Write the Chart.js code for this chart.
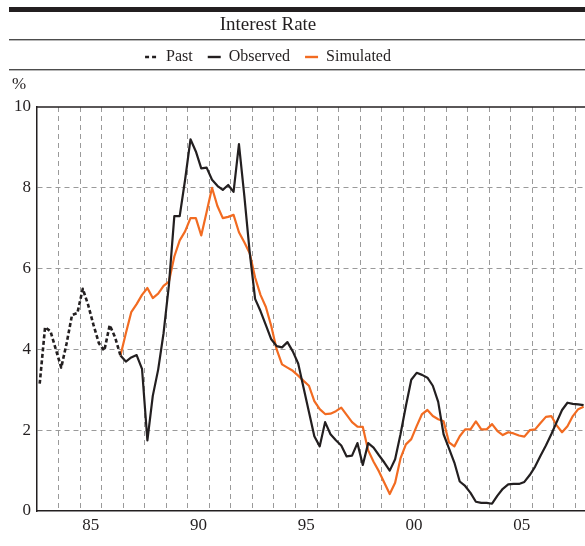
<!DOCTYPE html>
<html>
<head>
<meta charset="utf-8">
<script src="https://cdn.jsdelivr.net/npm/chart.js@4.4.1/dist/chart.umd.min.js"></script>
<style>
    html, body { margin: 0; padding: 0; background: #fff; }
    #wrap { width: 585px; height: 546px; }
</style>
</head>
<body>
<div id="wrap"><canvas id="rateChart"></canvas></div>
<script>
// quarterly data, x = year + quarter midpoint
var X_MIN = 1983
var X_MAX = 2008.44
var GRID_YEARS = [1984, 1985, 1986, 1987, 1988, 1989, 1990, 1991, 1992, 1993, 1994, 1995, 1996,
                  1997, 1998, 1999, 2000, 2001, 2002, 2003, 2004, 2005, 2006, 2007, 2008]
var LABEL_YEARS = [1985, 1990, 1995, 2000, 2005]
var TICK_LABELS = ['85', '90', '95', '00', '05']
var Y_TICKS = [0, 2, 4, 6, 8, 10]

// 1983Q1 - 1986Q4
var past = [3.15, 4.55, 4.45, 4.0, 3.55, 4.15, 4.85, 4.9, 5.5, 5.1, 4.6, 4.15, 3.97, 4.6, 4.3, 3.85]

// 1986Q4 - 2008Q2
var observed = [3.85,
    3.70, 3.80, 3.86, 3.52,
    1.75, 2.85, 3.50, 4.40,
    5.60, 7.30, 7.30, 8.20,
    9.20, 8.90, 8.48, 8.50,
    8.20, 8.05, 7.95, 8.07,
    7.90, 9.08, 7.80, 6.40,
    5.25, 4.95, 4.60, 4.25,
    4.08, 4.05, 4.18, 3.95,
    3.65, 3.05, 2.45, 1.85,
    1.60, 2.20, 1.90, 1.75,
    1.62, 1.35, 1.37, 1.68,
    1.14, 1.68, 1.57, 1.38,
    1.20, 1.00, 1.28, 1.90,
    2.60, 3.25, 3.42, 3.37,
    3.30, 3.10, 2.70, 1.90,
    1.55, 1.20, 0.73, 0.62,
    0.45, 0.23, 0.20, 0.20,
    0.18, 0.38, 0.55, 0.66,
    0.67, 0.67, 0.72, 0.89,
    1.10, 1.37, 1.62, 1.90,
    2.20, 2.50, 2.68, 2.65,
    2.64, 2.62]

var simulated = [3.85,
    4.40, 4.92, 5.12, 5.35,
    5.52, 5.27, 5.38, 5.57,
    5.68, 6.30, 6.70, 6.92,
    7.25, 7.25, 6.82, 7.40,
    8.00, 7.55, 7.25, 7.28,
    7.33, 6.90, 6.65, 6.38,
    5.78, 5.35, 5.05, 4.58,
    4.00, 3.63, 3.55, 3.47,
    3.35, 3.22, 3.10, 2.72,
    2.52, 2.40, 2.41, 2.47,
    2.56, 2.38, 2.20, 2.09,
    2.08, 1.50, 1.22, 0.98,
    0.70, 0.42, 0.70, 1.30,
    1.65, 1.78, 2.10, 2.40,
    2.50, 2.35, 2.27, 2.22,
    1.70, 1.60, 1.85, 2.02,
    2.02, 2.22, 2.02, 2.02,
    2.15, 1.98, 1.88, 1.95,
    1.92, 1.87, 1.84, 2.00,
    2.02, 2.18, 2.33, 2.35,
    2.12, 1.95, 2.10, 2.35,
    2.52, 2.58]

function quarterPoints(year, quarter, values) {
    return values.map(function(v, i) {
        return { x: year + (quarter - 1 + i + 0.5) / 4, y: v }
    })
}

var FONT = '"Liberation Serif", "Times New Roman", serif'
var GRID_GRAY = '#9a9a9a'

var headerPlugin = {
    id: 'header',
    afterDraw: function(chart) {
        var ctx = chart.ctx
        var w = chart.width
        var area = chart.chartArea
        var cx = 268
        ctx.save()
        // rules
        ctx.fillStyle = '#231f20'
        ctx.fillRect(9, 7, w - 9, 5)
        ctx.fillStyle = '#4d4d4d'
        ctx.fillRect(9, 39, w - 9, 1.4)
        ctx.fillRect(9, 69, w - 9, 1.4)
        // title
        ctx.fillStyle = '#231f20'
        ctx.textBaseline = 'middle'
        ctx.textAlign = 'center'
        ctx.font = '19px ' + FONT
        ctx.fillText('Interest Rate', cx, 25)
        // legend
        ctx.font = '16px ' + FONT
        var sets = chart.data.datasets
        var mark = 13, gap = 8, sep = 15
        var total = 0
        sets.forEach(function(ds, i) {
            total += mark + gap + ctx.measureText(ds.label).width + (i < sets.length - 1 ? sep : 0)
        })
        var x = cx - total / 2
        var ly = 57
        ctx.textAlign = 'left'
        sets.forEach(function(ds) {
            ctx.strokeStyle = ds.borderColor
            ctx.lineWidth = 2.4
            ctx.setLineDash(ds.borderDash ? [4, 3] : [])
            ctx.beginPath()
            ctx.moveTo(x, ly)
            ctx.lineTo(x + mark, ly)
            ctx.stroke()
            x += mark + gap
            ctx.fillStyle = '#231f20'
            ctx.fillText(ds.label, x, ly)
            x += ctx.measureText(ds.label).width + sep
        })
        ctx.setLineDash([])
        // unit
        ctx.font = '17px ' + FONT
        ctx.fillText('%', 12, 85)
        // top frame of plot
        ctx.strokeStyle = '#231f20'
        ctx.lineWidth = 1.5
        ctx.beginPath()
        ctx.moveTo(area.left, area.top)
        ctx.lineTo(area.right, area.top)
        ctx.stroke()
        ctx.restore()
    }
}

var rateChart = new Chart(document.getElementById('rateChart'), {
    type: 'line',
    data: {
        datasets: [{
            label: 'Past',
            data: quarterPoints(1983, 1, past),
            borderColor: '#231f20',
            borderWidth: 2.6,
            borderDash: [4, 2.5]
        }, {
            label: 'Observed',
            data: quarterPoints(1986, 4, observed),
            borderColor: '#231f20',
            borderWidth: 2.2
        }, {
            label: 'Simulated',
            data: quarterPoints(1986, 4, simulated),
            borderColor: '#f26b21',
            borderWidth: 2.2
        }]
    },
    options: {
        responsive: true,
        maintainAspectRatio: false,
        animation: false,
        layout: {
            padding: { top: 107, left: 14, right: 0, bottom: 0 }
        },
        elements: {
            point: { radius: 0 },
            line: { tension: 0, borderCapStyle: 'butt', borderJoinStyle: 'round' }
        },
        plugins: {
            legend: { display: false },
            title: { display: false },
            tooltip: { enabled: false }
        },
        scales: {
            x: {
                type: 'linear',
                min: X_MIN,
                max: X_MAX,
                afterBuildTicks: function(axis) {
                    var vals = GRID_YEARS.concat(LABEL_YEARS.map(function(y) { return y + 0.5 }))
                    vals.sort(function(a, b) { return a - b })
                    axis.ticks = vals.map(function(v) { return { value: v } })
                },
                afterFit: function(axis) { axis.height = 35 },
                grid: {
                    drawTicks: false,
                    lineWidth: 1,
                    color: function(c) {
                        return c.tick && Number.isInteger(c.tick.value) ? GRID_GRAY : 'rgba(0,0,0,0)'
                    }
                },
                border: { display: true, color: '#231f20', width: 1.5, dash: [5, 4] },
                ticks: {
                    autoSkip: false,
                    maxRotation: 0,
                    padding: 4,
                    color: '#231f20',
                    font: { family: FONT, size: 17 },
                    callback: function(v) {
                        var i = LABEL_YEARS.indexOf(v - 0.5)
                        return i >= 0 ? TICK_LABELS[i] : ''
                    }
                }
            },
            y: {
                min: 0,
                max: 10,
                afterBuildTicks: function(axis) {
                    axis.ticks = Y_TICKS.map(function(v) { return { value: v } })
                },
                afterFit: function(axis) { axis.width = 23 },
                grid: {
                    drawTicks: false,
                    lineWidth: 1,
                    color: function(c) {
                        var v = c.tick ? c.tick.value : 0
                        return v > 0 && v < 10 ? GRID_GRAY : 'rgba(0,0,0,0)'
                    }
                },
                border: { display: true, color: '#231f20', width: 1.5, dash: [5, 4] },
                ticks: {
                    padding: 6,
                    color: '#231f20',
                    font: { family: FONT, size: 17 }
                }
            }
        }
    },
    plugins: [headerPlugin]
})
</script>
</body>
</html>
